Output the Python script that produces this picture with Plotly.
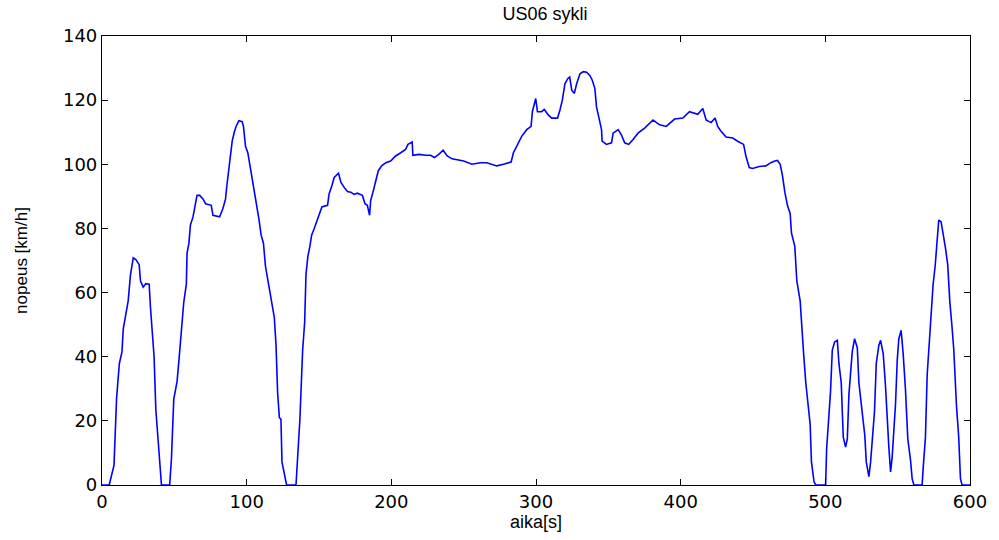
import plotly.graph_objects as go

# US06 drive cycle: time [s] and speed [km/h]
aika = [0, 5, 8.3, 10.1, 12, 13.8, 14.7, 16.5, 18.1, 19.7, 21.6, 23.4, 25.7, 26.6, 28.5, 30.3,
        32.6, 33.5, 34.9, 36, 37.2, 38.8, 39.9, 41.1, 46.8, 48, 49.6, 51.9, 53.3, 54.9, 56.5,
        58.3, 58.8, 60.1, 61.1, 62.9, 64.1, 65.7, 67.5, 69.8, 71.6, 75.5, 76.7, 81.3, 83.6,
        85.4, 86.3, 87.7, 88.6, 90, 91.6, 92.7, 94.6, 96.9, 97.8, 99.2, 100.8, 102.4, 104.2,
        106.1, 108.4, 110, 111.6, 113, 114.6, 116.2, 117.5, 119.1, 120.3, 121.4, 122.6, 123.7,
        124.4, 126, 127.6, 134.1, 135.2, 136.8, 138.7, 140.1, 141, 142.3, 143.7, 144.9, 146.7,
        148.3, 150.1, 152, 155.9, 157, 158.9, 160.5, 163.5, 165.1, 167.4, 169.7, 172, 174.2,
        176.5, 180, 181.8, 183.4, 185, 185.7, 187.3, 189.2, 191, 193.3, 196.2, 199.5, 203,
        206.5, 209.8, 211.5, 214.4, 214.9, 219.1, 223.7, 227.1, 229.8, 232.8, 235.8, 238.6,
        242, 246.6, 250, 255.7, 261.5, 266, 269.5, 272.9, 277.5, 282.8, 284.4, 287.4, 290.1,
        293.6, 296.6, 297.5, 299.8, 301, 303.9, 305.7, 308.5, 310.8, 314.9, 316.6, 318.2, 320,
        321.9, 323.3, 324.7, 326.5, 328.1, 330.4, 332.7, 335, 337.2, 338.9, 340.7, 341.8,
        343.4, 345.3, 345.7, 348.7, 352.2, 353.3, 356.8, 359, 361.3, 364.1, 367.1, 370.5,
        375.1, 380.9, 385.4, 390, 395.8, 401.5, 406.1, 411.8, 415.3, 417.6, 421, 423.8, 425.6,
        427.9, 431.4, 436, 439.4, 443.5, 445.1, 447.4, 449.7, 454.3, 458.9, 462.3, 465.1,
        466.9, 468.8, 470.4, 472, 473.8, 475.7, 476.6, 478.9, 480.3, 482.6, 483.5, 484.9,
        486.5, 488.1, 489.5, 490.4, 492.2, 493.4, 500.2, 500.9, 502.5, 503.6, 504.8, 506.4,
        508.3, 509.4, 511, 512.4, 514, 515.2, 516.3, 517.5, 518.6, 520.2, 522.1, 523.2, 525.5,
        527.3, 528.3, 530.1, 531.3, 532.6, 534, 535.2, 537, 538.2, 540, 541.6, 542.8, 543.9,
        545.1, 546.2, 547.4, 548.5, 549.7, 550.8, 552.4, 553.8, 555.4, 557, 558.9, 560, 561.2,
        566.9, 567.6, 569.2, 570.4, 571.5, 573.2, 574.5, 575.9, 577.3, 578.4, 580, 581.4, 583,
        584.6, 586, 587.6, 588.8, 590.6, 592.2, 593.4, 594.5, 600]

nopeus = [0, 0, 6.2, 27.2, 37.9, 41.5, 48.7, 53.8, 57.4, 65.6, 70.8, 70.3, 68.7, 63.6, 61.7, 62.8,
          62.6, 55.4, 48.2, 40, 23.6, 14.4, 5.1, 0, 0, 8.2, 26.7, 32.3, 39.5, 49.2, 56.9,
          62.6, 72.3, 75.4, 81, 83.6, 86.2, 90.3, 90.3, 89.2, 87.7, 87.2, 84.1, 83.6, 86.2,
          89.2, 93.3, 98.5, 101.5, 107.2, 110.3, 111.8, 113.6, 113.3, 111.8, 105.6, 103.6, 99.5,
          94.4, 88.7, 83.1, 77.9, 75.4, 68.2, 64.1, 61, 57.4, 52.3, 43.6, 28.7, 21, 20.5,
          7.2, 4.1, 0, 0, 9.2, 20.5, 42.1, 50.8, 65.6, 71.3, 74.4, 77.9, 80,
          82.1, 84.6, 86.7, 87.2, 90.8, 93.3, 95.9, 97.2, 94.4, 92.8, 91.5, 91.3, 90.6,
          91, 90.3, 87.7, 87.2, 84.1, 88.7, 91.3, 94.4, 98, 99.5, 100.5, 101, 102.6,
          103.6, 104.6, 106.2, 106.9, 102.8, 103.1, 102.8, 102.8, 102.1, 103.1, 104.4, 102.6,
          101.7, 101.3, 101, 100, 100.5, 100.5, 100, 99.5, 100, 100.7, 103.6, 106.2, 108.7,
          110.8, 111.8, 116.4, 120.5, 116.4, 116.4, 117.1, 115.4, 114.4, 114.4, 117, 120, 125.1,
          126.7, 127.2, 123.1, 122.1, 125.1, 128.2, 128.9, 128.7, 127.7, 126.2, 123.6, 118,
          114.9, 110.8, 107.2, 106.2, 106.7, 109.7, 110.8, 109.2, 106.7, 106.2, 107.7, 109.7,
          111.3, 113.8, 112.3, 111.8, 114.1, 114.4, 116.4, 115.6, 117.4, 113.8, 113, 114.4, 111.8,
          110.3, 108.5, 108.2, 107.2, 106.2, 102.6, 99, 98.7, 99.3, 99.5, 100.5, 101,
          101.2, 100, 96.4, 91.3, 87.2, 84.6, 78.5, 74.4, 63.6, 57.4, 49.7, 41.5,
          31.8, 25.1, 19, 7.2, 1, 0, 0, 11.3, 20.5, 29.2, 42, 44.6,
          45.1, 37.9, 31.8, 14.9, 11.8, 14.4, 28.2, 35.4, 41.5, 45.6, 42.8, 31.8, 23.6,
          15.4, 7.2, 2.6, 7.2, 15.4, 23, 37.9, 43.6, 45.1, 41, 30.8, 20, 11.8,
          4.1, 8.7, 17.4, 25.1, 38.9, 45.6, 48.2, 41, 29.7, 14.4, 7.7, 2, 0,
          0, 5.1, 14.9, 34.4, 42.1, 50.8, 62.6, 68.2, 76.4, 82.6, 82.1, 78.5, 74,
          68.7, 57.4, 49.2, 42.1, 25.1, 14.9, 2, 0, 0]

x_ticks = [0, 100, 200, 300, 400, 500, 600]
y_ticks = [0, 20, 40, 60, 80, 100, 120, 140]

tick_font = dict(family="DejaVu Sans, Verdana, sans-serif", size=18, color="black")
label_font = "Liberation Sans, Arial, sans-serif"

fig = go.Figure()
fig.add_trace(go.Scatter(
    x=aika, y=nopeus, mode="lines",
    line=dict(color="#0000FF", width=1.6),
    showlegend=False,
))

axis_common = dict(
    showgrid=False, zeroline=False,
    showline=True, linecolor="black", linewidth=1.2, mirror="ticks",
    ticks="inside", ticklen=6, tickcolor="black", tickwidth=1,
    tickfont=tick_font,
)

fig.update_xaxes(
    range=[0, 600], tickvals=x_ticks, ticktext=[str(v) for v in x_ticks],
    title=dict(text="aika[s]", font=dict(family=label_font, size=18, color="black"), standoff=4),
    **axis_common,
)
fig.update_yaxes(
    range=[0, 140], tickvals=y_ticks, ticktext=[str(v) for v in y_ticks],
    title=dict(text="nopeus [km/h]", font=dict(family=label_font, size=17, color="black"), standoff=30),
    **axis_common,
)

fig.update_layout(
    width=999, height=540,
    margin=dict(l=102, r=26, t=36, b=50),
    paper_bgcolor="white", plot_bgcolor="white",
    title=dict(text="US06 sykli", x=0.5455, xanchor="center", y=0.975, yanchor="middle",
               font=dict(family=label_font, size=18, color="black")),
)

fig.write_html("out.html")
